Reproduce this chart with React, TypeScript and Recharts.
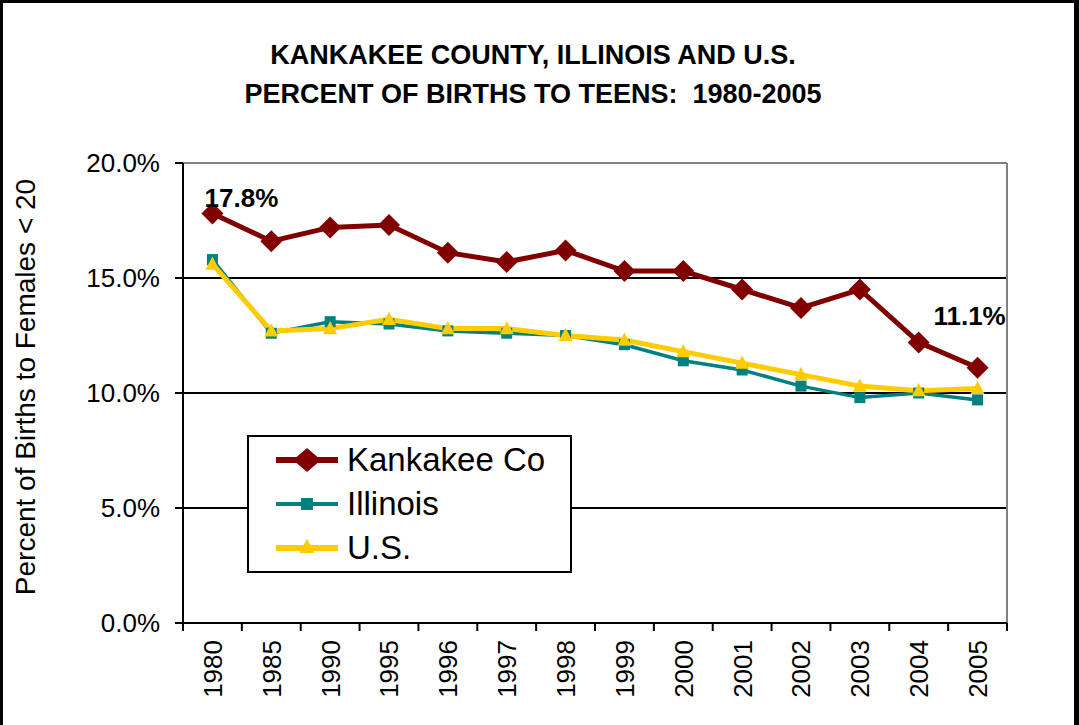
import React from "react";
import {
  LineChart, Line, XAxis, YAxis, CartesianGrid, ReferenceLine, Legend,
} from "recharts";

const years = ["1980", "1985", "1990", "1995", "1996", "1997", "1998", "1999", "2000", "2001", "2002", "2003", "2004", "2005"];
const kankakee = [17.8, 16.6, 17.2, 17.3, 16.1, 15.7, 16.2, 15.3, 15.3, 14.5, 13.7, 14.5, 12.2, 11.1];
const illinois = [15.8, 12.6, 13.1, 13.0, 12.7, 12.6, 12.5, 12.1, 11.4, 11.0, 10.3, 9.8, 10.0, 9.7];
const us = [15.6, 12.7, 12.8, 13.2, 12.8, 12.8, 12.5, 12.3, 11.8, 11.3, 10.8, 10.3, 10.1, 10.2];
const yTicks = [0, 5, 10, 15, 20];
const seriesOrder = ["kankakee", "illinois", "us"];

const data = years.map((year, i) => ({
  idx: i, year, kankakee: kankakee[i], illinois: illinois[i], us: us[i],
}));

// labels at the category centres, short tick marks on the boundaries between them
const xTicks = years.flatMap((_, i) => (i === 0 ? [-0.5, 0, 0.5] : [i, i + 0.5]));

const FONT = '"Liberation Sans", Arial, sans-serif';
const MAROON = "#800000";
const TEAL = "#008080";
const GOLD = "#FFCC00";

const Diamond = ({ cx, cy, w = 22, h = 22, fill }: any) => (
  <polygon points={`${cx},${cy - h / 2} ${cx + w / 2},${cy} ${cx},${cy + h / 2} ${cx - w / 2},${cy}`} fill={fill} />
);
const Square = ({ cx, cy, s = 11, fill }: any) => (
  <rect x={cx - s / 2} y={cy - s / 2} width={s} height={s} fill={fill} />
);
const Triangle = ({ cx, cy, s = 14, fill }: any) => (
  <polygon points={`${cx},${cy - s * 0.55} ${cx + s / 2},${cy + s * 0.4} ${cx - s / 2},${cy + s * 0.4}`} fill={fill} />
);

const XTick = ({ x, y, payload }: any) => {
  const v = payload.value;
  if (!Number.isInteger(v)) {
    return <line x1={x} x2={x} y1={y - 8} y2={y} stroke="#000" strokeWidth={2} />;
  }
  const ty = y + 9;
  return (
    <text x={x} y={ty} transform={`rotate(-90 ${x} ${ty})`} textAnchor="end" dy="0.36em"
      fontSize={26} fontFamily={FONT} fill="#000">
      {years[v]}
    </text>
  );
};

const EndLabel = ({ x, y, index, value }: any) => {
  if (index !== 0 && index !== years.length - 1) return null;
  const first = index === 0;
  return (
    <text x={x + (first ? 29 : -8)} y={y + (first ? -7 : -43)} textAnchor="middle"
      fontSize={26} fontWeight="bold" fontFamily={FONT} fill="#000">
      {value.toFixed(1)}%
    </text>
  );
};

const legendIcon: Record<string, (c: string) => React.ReactNode> = {
  kankakee: (c) => (
    <>
      <line x1={0} x2={62} y1={15} y2={15} stroke={c} strokeWidth={6} />
      <Diamond cx={31} cy={15} w={28} h={24} fill={c} />
    </>
  ),
  illinois: (c) => (
    <>
      <line x1={0} x2={62} y1={15} y2={15} stroke={c} strokeWidth={4} />
      <Square cx={31} cy={15} s={12} fill={c} />
    </>
  ),
  us: (c) => (
    <>
      <line x1={0} x2={62} y1={15} y2={15} stroke={c} strokeWidth={6} />
      <Triangle cx={31} cy={14} s={15} fill={c} />
    </>
  ),
};

const LegendBox = ({ payload }: any) => {
  const items = [...(payload || [])].sort(
    (a: any, b: any) => seriesOrder.indexOf(a.dataKey) - seriesOrder.indexOf(b.dataKey),
  );
  return (
    <div style={{
      width: 325, height: 138, boxSizing: "border-box", border: "2px solid #000",
      background: "#fff", padding: "1px 0 0 27px", fontFamily: FONT,
    }}>
      {items.map((entry: any) => (
        <div key={entry.dataKey} style={{ display: "flex", alignItems: "center", height: 44 }}>
          <svg width={62} height={30} style={{ display: "block" }}>
            {legendIcon[entry.dataKey](entry.color)}
          </svg>
          <span style={{ marginLeft: 9, fontSize: 33, color: "#000", lineHeight: "36px" }}>{entry.value}</span>
        </div>
      ))}
    </div>
  );
};

export default function App() {
  return (
    <div style={{ position: "absolute", left: 0, top: 0, width: 1079, height: 725, background: "#fff", overflow: "hidden" }}>
      <div style={{
        position: "absolute", left: 0, top: 36, width: 1066, textAlign: "center",
        fontFamily: FONT, fontWeight: "bold", fontSize: 27, lineHeight: "39px", whiteSpace: "pre", color: "#000",
      }}>
        {"KANKAKEE COUNTY, ILLINOIS AND U.S.\nPERCENT OF BIRTHS TO TEENS:  1980-2005"}
      </div>
      <div style={{
        position: "absolute", left: 26 - 250, top: 387 - 16, width: 500, height: 32,
        textAlign: "center", lineHeight: "32px", fontSize: 28, fontFamily: FONT, color: "#000",
        transform: "rotate(-90deg)", whiteSpace: "nowrap",
      }}>
        Percent of Births to Females &lt; 20
      </div>
      <div style={{ position: "absolute", left: 0, top: 0 }}>
        <LineChart width={1079} height={725} data={data} margin={{ top: 163, right: 72, bottom: 0, left: 0 }}>
          <CartesianGrid vertical={false} stroke="#000" strokeWidth={2} />
          <ReferenceLine y={20} stroke="#808080" strokeWidth={2} />
          <ReferenceLine x={13.5} stroke="#808080" strokeWidth={2} />
          <XAxis
            dataKey="idx" type="number" domain={[-0.5, 13.5]} ticks={xTicks} interval={0}
            height={102} tickLine={false} tickSize={8} tickMargin={0}
            axisLine={{ stroke: "#000", strokeWidth: 2 }} tick={<XTick />}
          />
          <YAxis
            type="number" domain={[0, 20]} ticks={yTicks} width={183} interval={0}
            tickFormatter={(v: number) => `${v.toFixed(1)}%`}
            tick={{ fontSize: 26, fill: "#000", fontFamily: FONT }}
            tickSize={8} tickMargin={15}
            tickLine={{ stroke: "#000", strokeWidth: 2 }} axisLine={{ stroke: "#000", strokeWidth: 2 }}
          />
          <Legend
            layout="vertical" align="center" verticalAlign="middle"
            wrapperStyle={{ position: "absolute", left: 247, top: 435, width: 325, height: 138 }}
            content={<LegendBox />}
          />
          <Line
            dataKey="kankakee" name="Kankakee Co" stroke={MAROON} strokeWidth={5}
            isAnimationActive={false} label={<EndLabel />}
            dot={(p: any) => <Diamond key={p.index} cx={p.cx} cy={p.cy} fill={MAROON} />}
            activeDot={false}
          />
          <Line
            dataKey="illinois" name="Illinois" stroke={TEAL} strokeWidth={3.5}
            isAnimationActive={false}
            dot={(p: any) => <Square key={p.index} cx={p.cx} cy={p.cy} fill={TEAL} />}
            activeDot={false}
          />
          <Line
            dataKey="us" name="U.S." stroke={GOLD} strokeWidth={5}
            isAnimationActive={false}
            dot={(p: any) => <Triangle key={p.index} cx={p.cx} cy={p.cy} fill={GOLD} />}
            activeDot={false}
          />
        </LineChart>
      </div>
      <div style={{
        position: "absolute", left: 0, top: 0, width: 1079, height: 740, boxSizing: "border-box",
        borderLeft: "3px solid #000", borderTop: "3px solid #000", borderRight: "5px solid #000",
        pointerEvents: "none",
      }} />
    </div>
  );
}
